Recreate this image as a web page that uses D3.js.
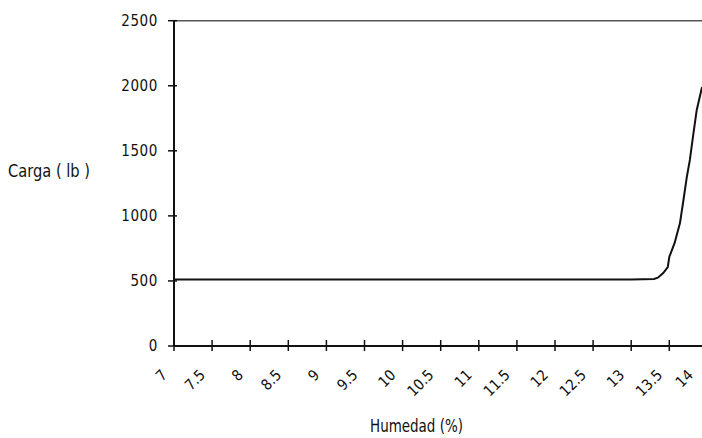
<!DOCTYPE html>
<html>
<head>
<meta charset="utf-8">
<script src="https://cdn.jsdelivr.net/npm/d3@7"></script>
<style>
  html, body { margin: 0; padding: 0; background: #fff; }
  svg { display: block; }
  text { font-family: "DejaVu Sans Condensed", "DejaVu Sans", sans-serif; fill: #111; }
</style>
</head>
<body>
<svg id="chart" width="702" height="438"></svg>
<script>
// ---- Data ----
const humedad = [7, 7.5, 8, 8.5, 9, 9.5, 10, 10.5, 11, 11.5, 12, 12.5, 13, 13.3, 13.35, 13.42, 13.48, 13.5, 13.57, 13.64, 13.68, 13.73, 13.77, 13.81, 13.86, 13.93];
const carga   = [512, 512, 512, 512, 512, 512, 512, 512, 512, 512, 512, 512, 512, 515, 525, 561, 607, 684, 792, 945, 1099, 1299, 1430, 1606, 1814, 1991];
const xTicks = [7, 7.5, 8, 8.5, 9, 9.5, 10, 10.5, 11, 11.5, 12, 12.5, 13, 13.5, 14];
const yTicks = [0, 500, 1000, 1500, 2000, 2500];
const yTitle = "Carga ( lb )";
const xTitle = "Humedad (%)";

// ---- Layout ----
const W = 702;
const svg = d3.select("#chart");
const x = d3.scaleLinear().domain([7, 14]).range([174, 707.4]);
const y = d3.scaleLinear().domain([0, 2500]).range([346, 20.7]);

// top frame line
svg.append("line")
  .attr("x1", x(7)).attr("x2", W)
  .attr("y1", y(2500)).attr("y2", y(2500))
  .attr("stroke", "#555").attr("stroke-width", 1.5);

// y axis
svg.append("line")
  .attr("x1", x(7)).attr("x2", x(7))
  .attr("y1", y(0)).attr("y2", y(2500))
  .attr("stroke", "#111").attr("stroke-width", 2);

// x axis
svg.append("line")
  .attr("x1", x(7)).attr("x2", W)
  .attr("y1", y(0)).attr("y2", y(0))
  .attr("stroke", "#111").attr("stroke-width", 2);

// y ticks
const yt = svg.append("g");
yt.selectAll("line").data(yTicks).join("line")
  .attr("x1", x(7) - 6).attr("x2", x(7) + 3)
  .attr("y1", d => y(d)).attr("y2", d => y(d))
  .attr("stroke", "#111").attr("stroke-width", 1.5);
yt.selectAll("text").data(yTicks).join("text")
  .attr("x", 158).attr("y", d => y(d))
  .attr("dy", "0.36em")
  .attr("text-anchor", "end")
  .style("font-size", "15px")
  .style("letter-spacing", "0.6px")
  .text(d => d);

// x ticks
const xt = svg.append("g");
xt.selectAll("line").data(xTicks).join("line")
  .attr("x1", d => x(d)).attr("x2", d => x(d))
  .attr("y1", y(0) - 6).attr("y2", y(0) + 5)
  .attr("stroke", "#111").attr("stroke-width", 1.5);
xt.selectAll("text").data(xTicks).join("text")
  .attr("transform", d => `translate(${Math.min(x(d) - 6, W - 8)},${y(0) + 30}) rotate(-45)`)
  .attr("text-anchor", "end")
  .style("font-size", "15px")
  .text(d => d);

// data line
const line = d3.line().x((d, i) => x(humedad[i])).y(d => y(d));
svg.append("path")
  .attr("d", line(carga))
  .attr("fill", "none")
  .attr("stroke", "#111")
  .attr("stroke-width", 2);

// axis titles
svg.append("text")
  .attr("x", 8).attr("y", 177)
  .attr("textLength", 82).attr("lengthAdjust", "spacingAndGlyphs")
  .style("font-size", "17px")
  .text(yTitle);
svg.append("text")
  .attr("x", 370).attr("y", 432)
  .attr("textLength", 93).attr("lengthAdjust", "spacingAndGlyphs")
  .style("font-size", "17px")
  .text(xTitle);
</script>
</body>
</html>
